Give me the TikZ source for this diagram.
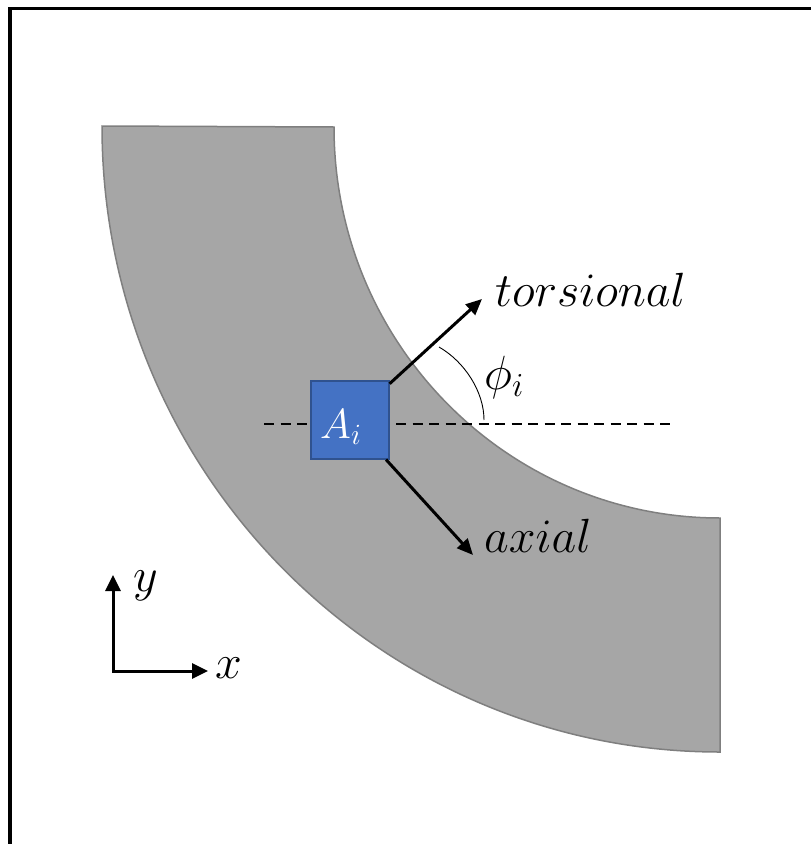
\RequirePackage{fix-cm}
\documentclass[tikz,border=0pt]{standalone}
\usetikzlibrary{arrows.meta}
\definecolor{bandfill}{HTML}{A6A6A6}
\definecolor{bandline}{HTML}{7F7F7F}
\definecolor{cellblue}{HTML}{4472C4}
\definecolor{cellline}{HTML}{2F528F}
\begin{document}
\begin{tikzpicture}[x=1pt,y=1pt,
  lbl/.style={font=\fontsize{48}{56}\selectfont, inner sep=0pt},
  vec/.style={line width=3pt, -{Triangle[length=16pt,width=14pt]}},
  axisvec/.style={line width=3pt, {Triangle[length=16pt,width=15pt]}-{Triangle[length=16pt,width=15pt]}},
  refline/.style={line width=1.8pt, dash pattern=on 10pt off 6.5pt},
  cell/.style={draw=cellline, fill=cellblue, line width=1.2pt, minimum size=78pt, inner sep=0pt},
  band/.style={fill=bandfill, draw=bandline, line width=1.5pt}]
\useasboundingbox (0,0) rectangle (811,-844);
% frame
\draw[line width=3.5pt] (10,-850) -- (10,-8.7) -- (820,-8.7);
% curved band
\path[band] (102,-126) arc[start angle=180,end angle=270,x radius=618pt,y radius=626pt]
  -- (720,-518) arc[start angle=270,end angle=180,x radius=386pt,y radius=391pt] -- cycle;
% dashed reference line
\coordinate (dL) at (264,-424);
\coordinate (dR) at (670,-424);
\draw[refline] (dL) -- (dR);
% element
\node[cell] (A) at (350,-420) {};
\node[lbl, font=\fontsize{42}{48}\selectfont, text=white, anchor=base west] (Alab) at (320,-438) {$A_i$};
% direction vectors
\coordinate (tT) at (482,-299);
\coordinate (tA) at (473,-555);
\draw[vec] (A) -- (tT);
\draw[vec] (A) -- (tA);
% angle arc
\coordinate (p1) at (439,-347);
\coordinate (p2) at (484,-420);
\draw[line width=0.9pt] (p1) .. controls (465,-362) and (484,-392) .. (p2);
% labels
\node[lbl, anchor=base west] (tors) at (495,-306) {$torsional$};
\node[lbl, anchor=base west] (ax) at (484,-552) {$axial$};
\node[lbl, anchor=base west] (phi) at (484,-389) {$\phi_i$};
% axes
\coordinate (O) at (113,-671);
\coordinate (Y) at (113,-575);
\coordinate (X) at (208,-671);
\draw[axisvec] (Y) -- (O) -- (X);
\node[lbl, anchor=base west] (ylab) at (133,-591) {$y$};
\node[lbl, anchor=base west] (xlab) at (215,-678) {$x$};
\end{tikzpicture}
\end{document}
